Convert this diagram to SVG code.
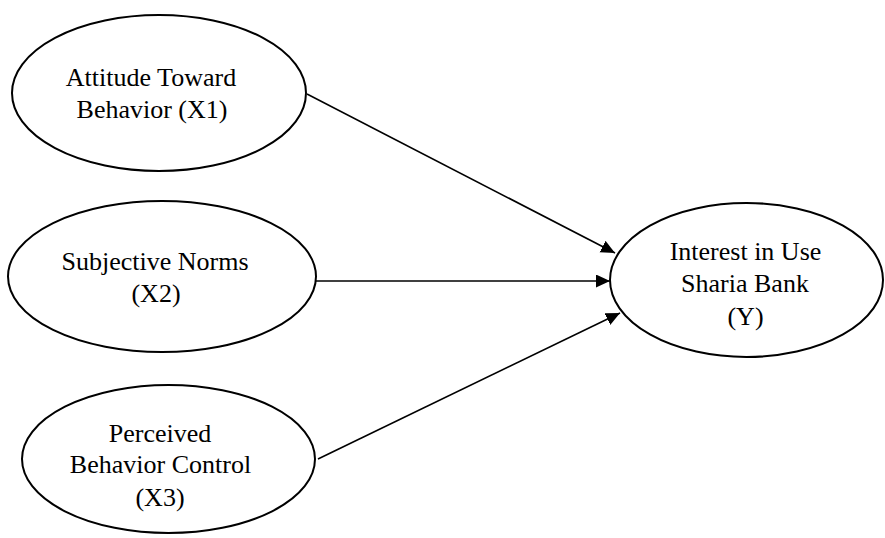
<svg xmlns="http://www.w3.org/2000/svg" width="885" height="538" viewBox="0 0 885 538">
<style>
.node ellipse{fill:#fff;stroke:#000;stroke-width:2}
.node text{font-family:"Liberation Serif","Times New Roman",serif;font-size:26px;fill:#000;text-anchor:middle}
.conn line{stroke:#000;stroke-width:1.6}
</style>
<defs>
<marker id="arr" markerUnits="userSpaceOnUse" markerWidth="15" markerHeight="14" refX="14" refY="6.5" orient="auto">
<path d="M0,0 L14,6.5 L0,13 z" fill="#000"/>
</marker>
</defs>
<rect width="885" height="538" fill="#fff"/>
<g id="connectors" class="conn">
<line x1="307" y1="94" x2="615" y2="253" marker-end="url(#arr)"/>
<line x1="316" y1="281" x2="610" y2="281" marker-end="url(#arr)"/>
<line x1="318" y1="459" x2="620" y2="313" marker-end="url(#arr)"/>
</g>
<g id="x1" class="node">
<ellipse cx="159" cy="93" rx="147" ry="78"/>
<text x="151" y="86">Attitude Toward</text>
<text x="152" y="117.5">Behavior (X1)</text>
</g>
<g id="x2" class="node">
<ellipse cx="162" cy="276.5" rx="154" ry="75.5"/>
<text x="155" y="270">Subjective Norms</text>
<text x="156" y="301.5">(X2)</text>
</g>
<g id="x3" class="node">
<ellipse cx="168.5" cy="459" rx="146.5" ry="74"/>
<text x="160" y="441.5">Perceived</text>
<text x="160.5" y="473">Behavior Control</text>
<text x="160" y="505.5">(X3)</text>
</g>
<g id="y" class="node">
<ellipse cx="746.5" cy="280" rx="136.5" ry="77"/>
<text x="745.5" y="260">Interest in Use</text>
<text x="745" y="292">Sharia Bank</text>
<text x="745.5" y="324.5">(Y)</text>
</g>
</svg>
